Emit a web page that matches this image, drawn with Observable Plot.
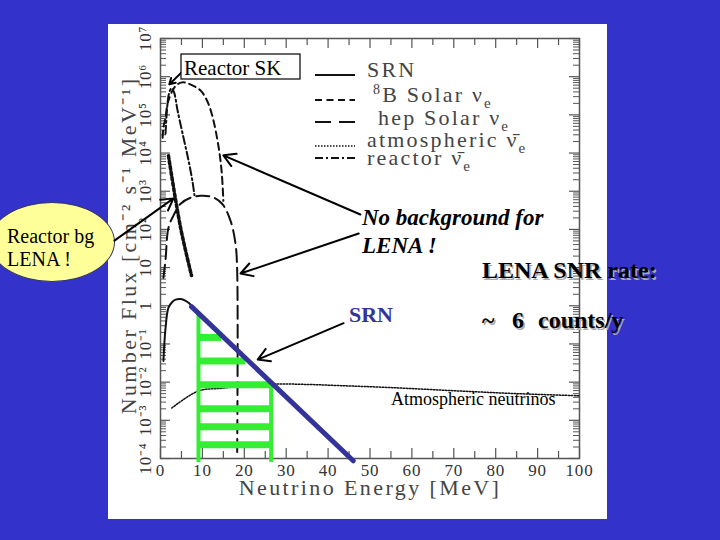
<!DOCTYPE html>
<html><head><meta charset="utf-8">
<script src="https://cdn.jsdelivr.net/npm/d3@7"></script>
<script src="https://cdn.jsdelivr.net/npm/@observablehq/plot@0.6"></script>
<style>
body{margin:0;background:#3333cc;}
#slide{position:relative;width:720px;height:540px;overflow:hidden;background:#3333cc;}
.abs{position:absolute;}
</style></head><body>
<div id="slide">
  <div class="abs" style="left:108px;top:24px;width:499px;height:495px;background:#fff"></div>
  <div class="abs" style="left:-11px;top:202px;width:126px;height:80px;border-radius:50%;background:#ffff99;border:1px solid #333366;box-sizing:border-box"></div>
  <div id="chart" class="abs" style="left:0;top:0"></div>
  <svg class="abs" style="left:0;top:0" width="720" height="540">
    <g stroke="#111" stroke-width="2">
      <line x1="315" x2="355" y1="75" y2="75"/>
      <line x1="315" x2="355" y1="100" y2="100" stroke-dasharray="7,4.5"/>
      <line x1="315" x2="355" y1="122" y2="122" stroke-dasharray="16,8"/>
      <line x1="315" x2="355" y1="146" y2="146" stroke-width="1.5" stroke-dasharray="1.5,1.5"/>
      <line x1="315" x2="355" y1="158" y2="158" stroke-dasharray="8,3,2,3"/>
    </g>
    <g font-family="Liberation Serif" font-size="22" fill="#444" style="letter-spacing:2.2px">
      <text x="367" y="77">SRN</text>
      <text x="373" y="102"><tspan font-size="14" dy="-8">8</tspan><tspan dy="8">B Solar ν</tspan><tspan font-size="15" dy="6">e</tspan></text>
      <text x="378" y="125">hep Solar ν<tspan font-size="15" dy="6">e</tspan></text>
      <text x="367" y="147">atmospheric ν̄<tspan font-size="15" dy="6">e</tspan></text>
      <text x="367" y="165">reactor ν̄<tspan font-size="15" dy="6">e</tspan></text>
    </g>
    <rect x="181" y="54" width="119" height="25" fill="#fff" stroke="#000" stroke-width="1.2"/>
    <text x="184" y="75" font-family="Liberation Serif" font-size="21" fill="#000">Reactor SK</text>
    <g font-family="Liberation Serif" font-size="20" fill="#000">
      <text x="7" y="243">Reactor bg</text>
      <text x="7" y="266">LENA !</text>
    </g>
    <g font-family="Liberation Serif" font-size="23" font-weight="bold" font-style="italic" fill="#000">
      <text x="362" y="225">No background for</text>
      <text x="362" y="253">LENA !</text>
    </g>
    <g font-family="Liberation Serif" font-size="24" font-weight="bold">
      <text x="483.5" y="279.5" fill="#aaa">LENA SNR rate:</text>
      <text x="482" y="278" fill="#000">LENA SNR rate:</text>
      <text x="483.5" y="329.5" fill="#aaa">~</text>
      <text x="482" y="328" fill="#000">~</text>
      <text x="513.5" y="329.5" fill="#aaa">6</text>
      <text x="512" y="328" fill="#000">6</text>
      <text x="539.5" y="329.5" fill="#aaa">counts/y</text>
      <text x="538" y="328" fill="#000">counts/y</text>
      <text x="349" y="322" fill="#333399" font-size="22">SRN</text>
    </g>
    <text x="391" y="405" font-family="Liberation Serif" font-size="18" fill="#000">Atmospheric neutrinos</text>
  </svg>
</div>
<script>
// ---- data (energy in MeV, flux in cm^-2 s^-1 MeV^-1)
const srnE    = [0.7, 1.2, 1.9, 2.8, 3.6, 4.8, 6.0, 6.7, 7.9, 9.0];
const srnFlux = [0.036, 0.26, 0.89, 1.26, 1.45, 1.5, 1.35, 1.2, 0.89, 0.65];

const fitE    = [7.4, 46];
const fitFlux = [0.95, 8.7e-5];

const b8E    = [0.5, 0.7, 1.2, 1.7, 2.9, 4.0, 5.5, 7.5, 9.5, 11.0, 12.3, 13.8, 14.6, 15.0];
const b8Flux = [2.5e4, 4.7e4, 8.5e4, 2.0e5, 4.4e5, 6.3e5, 7.1e5, 6.0e5, 4.4e5, 2.5e5, 1.0e5, 1.6e4, 3.2e3, 5.6e2];

const hepE    = [0.7, 1.2, 1.9, 3.1, 4.8, 7.2, 9.5, 12.3, 14.7, 16.7, 17.9, 18.3, 18.3];
const hepFlux = [5.4, 16, 110, 230, 470, 680, 760, 710, 470, 170, 42, 8.3, 1.35e-4];

const reacE    = [1.2, 1.6, 2.0, 2.6, 3.2, 4.1, 5.5, 6.7, 7.6, 8.1];
const reacFlux = [3.2e4, 1.6e5, 3.5e5, 5.0e5, 4.0e5, 1.26e5, 2.5e4, 6.3e3, 1.9e3, 7.9e2];

const atmE    = [2.7, 9.1, 14.6, 20, 26.6, 35, 43, 55, 70.8, 85, 100];
const atmFlux = [2.1e-3, 5.9e-3, 6.9e-3, 7.9e-3, 8.9e-3, 8.7e-3, 8.1e-3, 7.2e-3, 5.9e-3, 5.0e-3, 4.4e-3];

const lenaReacE    = [1.9, 4.8, 7.4];
const lenaReacFlux = [8.5e3, 110, 6.2];

const binFlux  = [0.148, 0.036, 8.5e-3, 2.0e-3, 6.8e-4, 2.3e-4];
const binStart = [9.07, 9.07, 9.07, 9.07, 9.07, 9.07];
const binEnd   = [14.6, 20.4, 26.4, 26.4, 26.4, 26.4];
const edgeE      = [9.07, 26.4];
const edgeTop    = [0.67, 0.0105];
const edgeBottom = [7.9e-5, 7.9e-5];

// annotation arrows (data coordinates)
const arrowX1 = [5.5, -11.0, 47.7, 47.3, 43.7];
const arrowY1 = [1.45e6, 51, 246, 78, 0.35];
const arrowX2 = [2.1, 3.1, 15.0, 19.1, 23.2];
const arrowY2 = [6.3e5, 650, 8700, 7.0, 0.039];

const xTicks = [0, 10, 20, 30, 40, 50, 60, 70, 80, 90, 100];
const xTickLabels = ["0","10","20","30","40","50","60","70","80","90","100"];
const xMinor = [5, 15, 25, 35, 45, 55, 65, 75, 85, 95];
const yTicks = [1e-4, 1e-3, 1e-2, 1e-1, 1, 1e1, 1e2, 1e3, 1e4, 1e5, 1e6, 1e7];
const yTickLabels = ["10⁻⁴","10⁻³","10⁻²","10⁻¹","1","10","10²","10³","10⁴","10⁵","10⁶","10⁷"];
const yMinor = yTicks.slice(0, -1).flatMap(d => [2,3,4,5,6,7,8,9].map(k => k * d));
const xTitle = "Neutrino Energy [MeV]";
const yTitle = "Number Flux [cm⁻² s⁻¹ MeV⁻¹]";

const zip = (E, F) => E.map((e, i) => ({E: e, F: F[i]}));
const W = 720, H = 540, mL = 160, mR = 141, mT = 38, mB = 82;
const fw = W - mL - mR, fh = H - mT - mB;
const axisColor = "#555";
const font = "Liberation Serif";

const bins = binFlux.map((f, i) => ({y: f, x1: binStart[i], x2: binEnd[i]}));
const edges = edgeE.map((e, i) => ({x: e, y1: edgeTop[i], y2: edgeBottom[i]}));
const arrows = arrowX1.map((x, i) => ({x1: x, y1: arrowY1[i], x2: arrowX2[i], y2: arrowY2[i]}));

const chart = Plot.plot({
  width: W, height: H,
  marginLeft: mL, marginRight: mR, marginTop: mT, marginBottom: mB,
  style: {background: "transparent", overflow: "visible"},
  x: {type: "linear", domain: [0, 100], axis: null},
  y: {type: "log", domain: [1e-4, 1e7], axis: null},
  marks: [
    Plot.frame({stroke: axisColor, strokeWidth: 1.5}),
    Plot.tickX(xTicks, {x: d => d, insetTop: fh - 10, stroke: axisColor, strokeWidth: 1.2}),
    Plot.tickX(xTicks, {x: d => d, insetBottom: fh - 10, stroke: axisColor, strokeWidth: 1.2}),
    Plot.tickX(xMinor, {x: d => d, insetTop: fh - 7, stroke: axisColor, strokeWidth: 1.2}),
    Plot.tickX(xMinor, {x: d => d, insetBottom: fh - 7, stroke: axisColor, strokeWidth: 1.2}),
    Plot.tickY(yTicks, {y: d => d, insetRight: fw - 10, stroke: axisColor, strokeWidth: 1.2}),
    Plot.tickY(yTicks, {y: d => d, insetLeft: fw - 10, stroke: axisColor, strokeWidth: 1.2}),
    Plot.tickY(yMinor, {y: d => d, insetRight: fw - 6, stroke: axisColor, strokeWidth: 1}),
    Plot.tickY(yMinor, {y: d => d, insetLeft: fw - 6, stroke: axisColor, strokeWidth: 1}),
    Plot.text(xTicks, {x: d => d, text: (d, i) => xTickLabels[i], frameAnchor: "bottom", dy: 17, fontFamily: font, fontSize: 17, fill: "#333"}),
    Plot.text(yTicks, {y: d => d, text: (d, i) => yTickLabels[i], frameAnchor: "left", textAnchor: "middle", dx: -15, rotate: -90, fontFamily: font, fontSize: 17, fill: "#333"}),
    Plot.text([xTitle], {text: d => d, frameAnchor: "bottom", dy: 36, fontFamily: font, fontSize: 22, fill: "#444"}),
    Plot.text([yTitle], {text: d => d, frameAnchor: "left", textAnchor: "middle", dx: -32, dy: -3, rotate: -90, fontFamily: font, fontSize: 22, fill: "#444"}),
    // spectra
    Plot.line(zip(atmE, atmFlux), {x: "E", y: "F", stroke: "#111", strokeWidth: 1.5, strokeDasharray: "1.5,1.5", curve: "catmull-rom"}),
    Plot.line(zip(b8E, b8Flux), {x: "E", y: "F", stroke: "#111", strokeWidth: 2, strokeDasharray: "7,4.5", curve: "catmull-rom"}),
    Plot.line(zip(hepE, hepFlux), {x: "E", y: "F", stroke: "#111", strokeWidth: 2, strokeDasharray: "13,6", curve: "catmull-rom"}),
    Plot.line(zip(reacE, reacFlux), {x: "E", y: "F", stroke: "#111", strokeWidth: 2, strokeDasharray: "8,3,2,3", curve: "catmull-rom"}),
    Plot.line(zip(lenaReacE, lenaReacFlux), {x: "E", y: "F", stroke: "#111", strokeWidth: 3.5, strokeDasharray: "3,2.5", curve: "catmull-rom"}),
    Plot.line(zip(srnE, srnFlux), {x: "E", y: "F", stroke: "#111", strokeWidth: 2, curve: "catmull-rom"}),
    // LENA energy window bins
    Plot.ruleY(bins, {y: "y", x1: "x1", x2: "x2", stroke: "#33ee33", strokeWidth: 7}),
    Plot.ruleX(edges, {x: "x", y1: "y1", y2: "y2", stroke: "#33ee33", strokeWidth: 4}),
    // SRN power-law fit
    Plot.line(zip(fitE, fitFlux), {x: "E", y: "F", stroke: "#333399", strokeWidth: 5}),
    // annotation arrows
    Plot.arrow(arrows, {x1: "x1", y1: "y1", x2: "x2", y2: "y2", stroke: "#000", strokeWidth: 2, headLength: 10})
  ]
});
const sel = d3.select(chart);
sel.selectAll("text").each(function () {
  const t = this.textContent;
  if (t === xTitle || t === yTitle) this.style.letterSpacing = "2.4px";
  else if (xTickLabels.includes(t) || yTickLabels.includes(t)) this.style.letterSpacing = "0.8px";
});
document.getElementById("chart").appendChild(chart);
</script>
</body></html>
